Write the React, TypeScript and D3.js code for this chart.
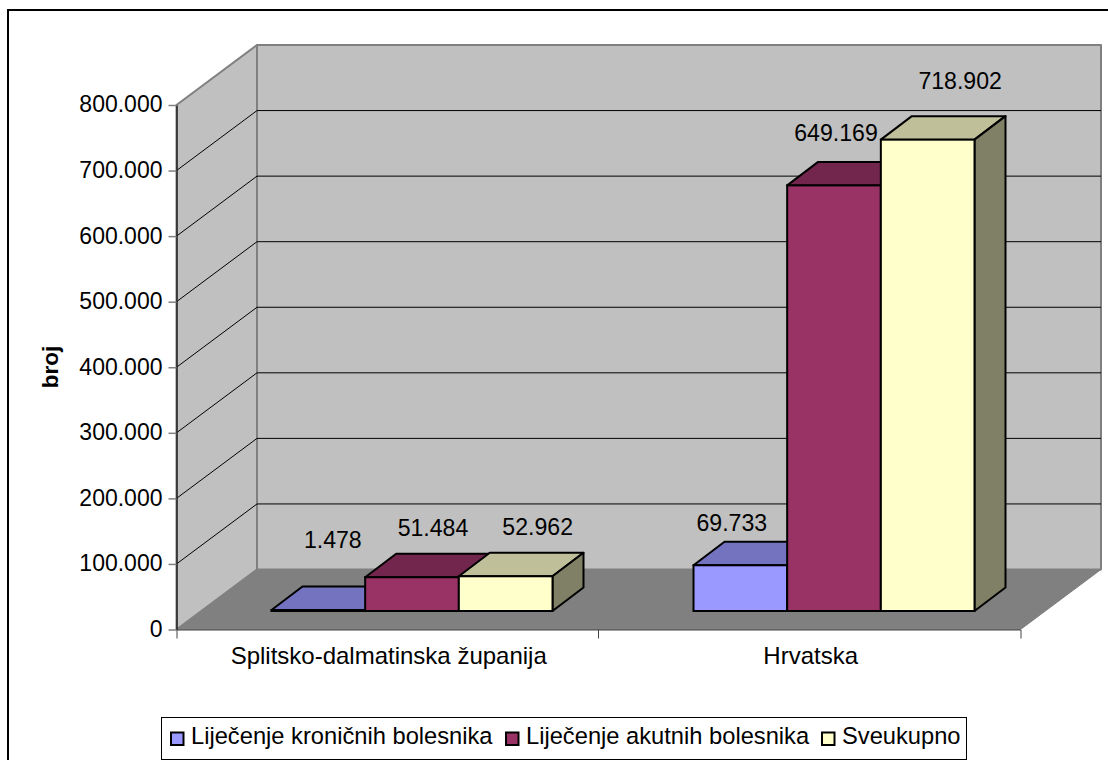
import { useEffect, useRef } from "react";
import * as d3 from "d3";

const categories = ["Splitsko-dalmatinska županija", "Hrvatska"];
const seriesNames = ["Liječenje kroničnih bolesnika", "Liječenje akutnih bolesnika", "Sveukupno"];
const kronicni = [1478, 69733];
const akutni = [51484, 649169];
const sveukupno = [52962, 718902];
const yTicks = [0, 100000, 200000, 300000, 400000, 500000, 600000, 700000, 800000];
const colors = ["#9999FF", "#993366", "#FFFFCC"];

const FONT = "'Liberation Sans', Arial, sans-serif";
const thousands = d3.formatLocale({
  decimal: ",",
  thousands: ".",
  grouping: [3],
  currency: ["", ""],
}).format(",d");

export default function App() {
  const svgRef = useRef<SVGSVGElement>(null);

  useEffect(() => {
    const svg = d3.select(svgRef.current);
    svg.selectAll("*").remove();

    // front plane of the 3d box, and how far the back wall is shifted
    const left = 176.5;
    const right = 1020.5;
    const bottom = 629.5;
    const top = 105;
    const depthX = 80.5;
    const depthY = 60;

    const x0 = d3.scaleBand().domain(categories).range([left, right]);
    const y = d3.scaleLinear().domain([0, 800000]).range([bottom, top]);
    const x1 = d3.scaleBand().domain(seriesNames).range([0, 281]);

    const poly = (pts: number[][], fill: string, stroke: string, sw: number) =>
      svg
        .append("polygon")
        .attr("points", pts.map(p => p.join(",")).join(" "))
        .attr("fill", fill)
        .attr("stroke", stroke)
        .attr("stroke-width", sw)
        .attr("stroke-linejoin", "round");

    // frame is cut off by the picture on the right and at the bottom
    svg
      .append("rect")
      .attr("x", 8)
      .attr("y", 10)
      .attr("width", 1200)
      .attr("height", 800)
      .attr("fill", "#fff")
      .attr("stroke", "#000")
      .attr("stroke-width", 2);

    // walls and floor
    poly(
      [[left, top], [left + depthX, top - depthY], [left + depthX, bottom - depthY], [left, bottom]],
      "#C0C0C0", "#808080", 2
    );
    poly(
      [[left + depthX, top - depthY], [right + depthX, top - depthY], [right + depthX, bottom - depthY], [left + depthX, bottom - depthY]],
      "#C0C0C0", "#808080", 2
    );
    poly(
      [[left, bottom], [left + depthX, bottom - depthY], [right + depthX, bottom - depthY], [right, bottom]],
      "#808080", "#808080", 1
    );

    // gridlines run along the left wall and across the back wall
    yTicks.slice(1, -1).forEach(t => {
      svg
        .append("polyline")
        .attr("points", `${left},${y(t)} ${left + depthX},${y(t) - depthY} ${right + depthX},${y(t) - depthY}`)
        .attr("fill", "none")
        .attr("stroke", "#000")
        .attr("stroke-width", 1);
    });

    const yAxis = svg
      .append("g")
      .attr("transform", `translate(${left},0)`)
      .call(
        d3.axisLeft(y).tickValues(yTicks).tickFormat(d => thousands(+d)).tickSizeInner(8).tickSizeOuter(0).tickPadding(6)
      );
    yAxis.select(".domain").attr("stroke", "#222").attr("stroke-width", 1.5);
    yAxis.selectAll(".tick line").attr("stroke", "#808080").attr("stroke-width", 1.5);
    yAxis.selectAll("text").attr("font-family", FONT).attr("font-size", 23).attr("fill", "#000").attr("y", -0.5);

    const xAxis = svg
      .append("g")
      .attr("transform", `translate(0,${bottom})`)
      .call(d3.axisBottom(x0).tickSizeInner(0).tickSizeOuter(9).tickPadding(17.5));
    xAxis.select(".domain").attr("stroke", "#444").attr("stroke-width", 1);
    xAxis.selectAll("text").attr("font-family", FONT).attr("font-size", 24).attr("fill", "#000").attr("x", 1.2);
    xAxis
      .append("line")
      .attr("x1", x0("Hrvatska"))
      .attr("x2", x0("Hrvatska"))
      .attr("y1", 0)
      .attr("y2", 9)
      .attr("stroke", "#444");

    // bars
    const values = [kronicni, akutni, sveukupno];
    const barWidth = x1.bandwidth();
    const barDepthX = 31;
    const barDepthY = 23.5;
    const barBase = 611;
    const barOffset = 24.5 + (x0.bandwidth() - 281) / 2;
    const labelNudge = [
      [[-1, -62], [-24, -34]],
      [[5.5, -41], [-13.5, -44]],
      [[16.5, -41], [17, -51]],
    ];

    categories.forEach((cat, c) => {
      seriesNames.forEach((name, s) => {
        const v = values[s][c];
        const bx = (x0(cat) as number) + barOffset + (x1(name) as number);
        const h = bottom - y(v);
        const by = barBase - h;
        const base = d3.rgb(colors[s]);
        const shade = (k: number) => d3.rgb(base.r * k, base.g * k, base.b * k).formatHex();

        poly(
          [[bx, by], [bx + barDepthX, by - barDepthY], [bx + barWidth + barDepthX, by - barDepthY], [bx + barWidth, by]],
          shade(0.75), "#000", 2
        );
        poly(
          [[bx + barWidth, by], [bx + barWidth + barDepthX, by - barDepthY], [bx + barWidth + barDepthX, barBase - barDepthY], [bx + barWidth, barBase]],
          shade(0.5), "#000", 2
        );
        svg
          .append("rect")
          .attr("x", bx)
          .attr("y", by)
          .attr("width", barWidth)
          .attr("height", h)
          .attr("fill", colors[s])
          .attr("stroke", "#000")
          .attr("stroke-width", 2);
      });
    });

    // value labels go on last so the bars never cover them
    categories.forEach((cat, c) => {
      seriesNames.forEach((name, s) => {
        const v = values[s][c];
        const bx = (x0(cat) as number) + barOffset + (x1(name) as number);
        const by = barBase - (bottom - y(v));
        const [nx, ny] = labelNudge[s][c];
        svg
          .append("text")
          .attr("x", bx + barWidth / 2 + barDepthX / 2 + nx)
          .attr("y", by + ny)
          .attr("text-anchor", "middle")
          .attr("font-family", FONT)
          .attr("font-size", 23.1)
          .attr("fill", "#000")
          .text(thousands(v));
      });
    });

    // axis title
    svg
      .append("text")
      .attr("transform", "translate(58,367) rotate(-90)")
      .attr("text-anchor", "middle")
      .attr("font-family", FONT)
      .attr("font-size", 22.5)
      .attr("font-weight", "bold")
      .attr("fill", "#000")
      .text("broj");

    // legend
    svg
      .append("rect")
      .attr("x", 161.5)
      .attr("y", 717.5)
      .attr("width", 805)
      .attr("height", 42)
      .attr("fill", "#fff")
      .attr("stroke", "#000")
      .attr("stroke-width", 1);
    const legendX = [171, 506, 822];
    seriesNames.forEach((name, s) => {
      svg
        .append("rect")
        .attr("x", legendX[s])
        .attr("y", 732.5)
        .attr("width", 12.5)
        .attr("height", 12.5)
        .attr("fill", colors[s])
        .attr("stroke", "#000")
        .attr("stroke-width", 2);
      svg
        .append("text")
        .attr("x", legendX[s] + 20)
        .attr("y", 744)
        .attr("font-family", FONT)
        .attr("font-size", 23.7)
        .attr("fill", "#000")
        .text(name);
    });
  }, []);

  return (
    <svg
      ref={svgRef}
      width={1108}
      height={760}
      style={{ position: "absolute", left: 0, top: 0, display: "block", background: "#fff" }}
    />
  );
}
